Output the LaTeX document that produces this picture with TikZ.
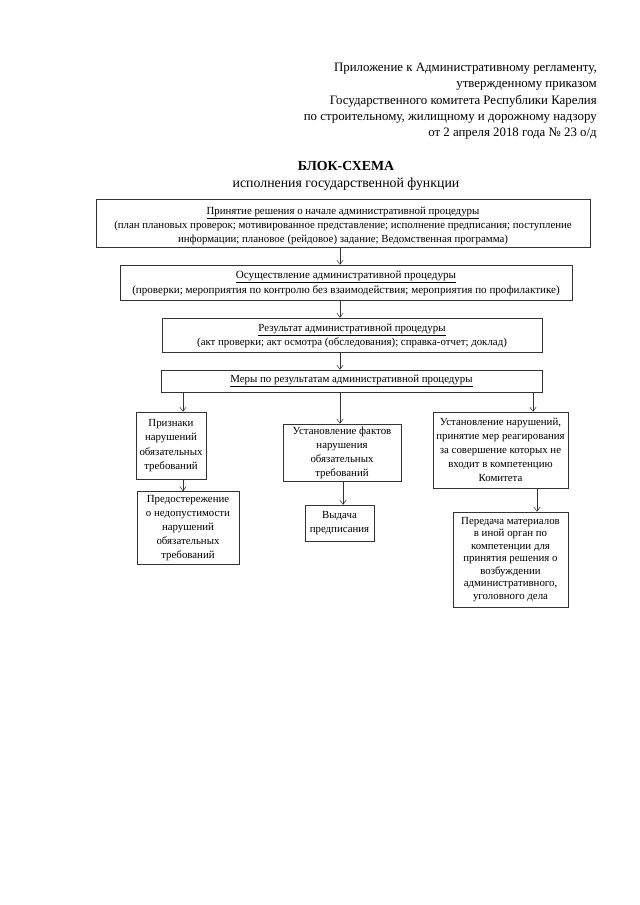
\documentclass[tikz,border=0pt]{standalone}
\usepackage{fontspec}
\setmainfont{Liberation Serif}
\usetikzlibrary{arrows.meta,calc}
\begin{document}
\begin{tikzpicture}[x=0.94pt,y=-0.94pt,
  box/.style={draw=black!80, line width=0.5pt, align=center, inner sep=1pt,
    font=\fontsize{10.2}{13.2}\selectfont},
  txt/.style={align=center, inner sep=0pt, font=\fontsize{10.2}{13.2}\selectfont},
  arr/.style={draw=black!80, line width=0.5pt, -{Straight Barb[length=4pt,width=6pt]}},
  hdr/.style={align=right, inner sep=0pt, font=\fontsize{12.1}{15.3}\selectfont},
  ttl/.style={align=center, inner sep=0pt, font=\fontsize{13}{16}\selectfont}]
\useasboundingbox (0,0) rectangle (639,905);
\fill[white] (0,0) rectangle (639,905);

\node[hdr, anchor=north east] (hdr) at (597,63) {Приложение к Административному регламенту,\\
утвержденному приказом\\
Государственного комитета Республики Карелия\\
по строительному, жилищному и дорожному надзору\\
от 2 апреля 2018 года № 23 о/д};

\node[ttl, anchor=north] (ttl) at (346,161) {\textbf{БЛОК-СХЕМА}\\исполнения государственной функции};

\node[box, minimum width=464.4pt, minimum height=45.1pt] (b1) at (343,223) {};
\node[txt] (t1) at ($(b1.center)+(0,3)$) {\underline{Принятие решения о начале административной процедуры}\\
(план плановых проверок; мотивированное представление; исполнение предписания; поступление\\
информации; плановое (рейдовое) задание; Ведомственная программа)};

\node[box, minimum width=424.9pt, minimum height=32.9pt] (b2) at (346,282.5) {};
\node[txt, font=\fontsize{10.4}{14.2}\selectfont] (t2) at ($(b2.center)+(0,1)$) {\underline{Осуществление административной процедуры}\\
(проверки; мероприятия по контролю без взаимодействия; мероприятия по профилактике)};

\node[box, minimum width=357.2pt, minimum height=32pt] (b3) at (352,335) {};
\node[txt] (t3) at ($(b3.center)+(0,0.5)$) {\underline{Результат административной процедуры}\\
(акт проверки; акт осмотра (обследования); справка-отчет; доклад)};

\node[box, minimum width=358.1pt, minimum height=20.7pt] (b4) at (351.5,381) {\underline{Меры по результатам административной процедуры}};

\node[box, minimum width=65.8pt, minimum height=63pt, font=\fontsize{10.2}{13.6}\selectfont] (p1) at (171,445.5) {Признаки\\нарушений\\обязательных\\требований};
\node[box, minimum width=110.9pt, minimum height=53.6pt] (p2) at (342,452.5) {Установление фактов\\нарушения\\обязательных\\требований};
\node[box, minimum width=126.9pt, minimum height=71.4pt] (p3) at (500.5,450) {Установление нарушений,\\принятие мер реагирования\\за совершение которых не\\входит в компетенцию\\Комитета};

\node[box, minimum width=95.9pt, minimum height=68.6pt] (q1) at (188,528) {Предостережение\\о недопустимости\\нарушений\\обязательных\\требований};
\node[box, minimum width=64.9pt, minimum height=33.8pt] (q2) at (339.5,523) {Выдача\\предписания};
\node[box, minimum width=108.1pt, minimum height=89.3pt, font=\fontsize{10.2}{11.8}\selectfont] (q3) at (510.5,559.5) {Передача материалов\\в иной орган по\\компетенции для\\принятия решения о\\возбуждении\\административного,\\уголовного дела};

\coordinate (xm) at (340,0);
\coordinate (xl) at (183,0);
\coordinate (xr) at (533,0);
\coordinate (xf) at (343,0);
\coordinate (xq) at (537,0);

\draw[arr] (b1.south -| xm) -- (b2.north -| xm);
\draw[arr] (b2.south -| xm) -- (b3.north -| xm);
\draw[arr] (b3.south -| xm) -- (b4.north -| xm);
\draw[arr] (b4.south -| xl) -- (p1.north -| xl);
\draw[arr] (b4.south -| xm) -- (p2.north -| xm);
\draw[arr] (b4.south -| xr) -- (p3.north -| xr);
\draw[arr] (p1.south -| xl) -- (q1.north -| xl);
\draw[arr] (p2.south -| xf) -- (q2.north -| xf);
\draw[arr] (p3.south -| xq) -- (q3.north -| xq);
\end{tikzpicture}
\end{document}
